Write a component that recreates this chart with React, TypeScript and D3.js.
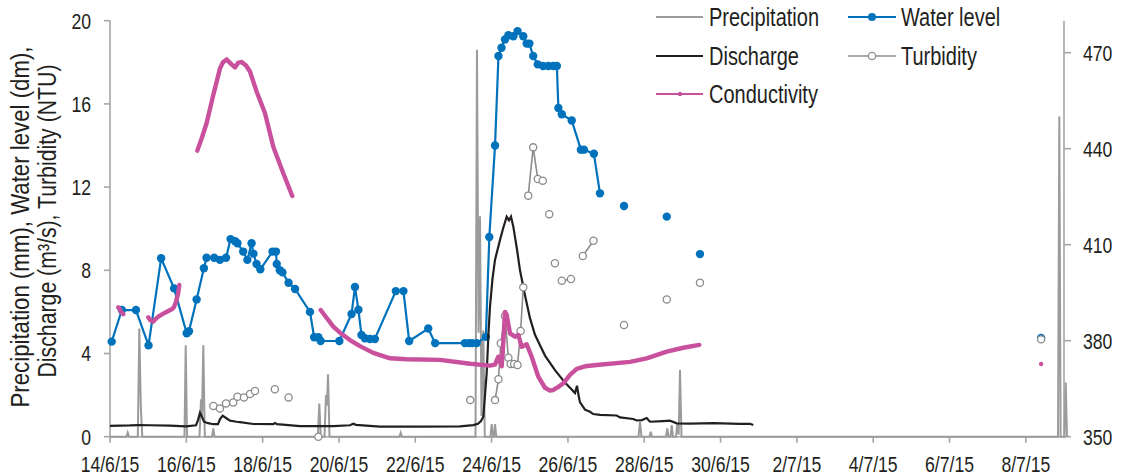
import React from "react";
import * as d3 from "d3";

// ---- Data (day offsets since 14/6/15 00:00) ----
const xTickLabels = ["14/6/15","16/6/15","18/6/15","20/6/15","22/6/15","24/6/15","26/6/15","28/6/15","30/6/15","2/7/15","4/7/15","6/7/15","8/7/15"];
const leftTicks = [0, 4, 8, 12, 16, 20];
const rightTicks = [350, 380, 410, 440, 470];

type P = [number, number | null];

const precipitation: P[] = [
  [0, 0], [0.432, 0], [0.464, 0.2], [0.498, 0],
  [0.729, 0], [0.768, 5.2], [0.807, 1.45], [0.846, 0],
  [1.952, 0], [1.984, 4.4], [2.018, 0],
  [2.345, 0], [2.385, 1.8], [2.411, 1.0], [2.445, 4.4], [2.484, 0],
  [2.673, 0], [2.707, 0.4], [2.741, 0],
  [5.446, 0], [5.485, 1.6], [5.524, 0], [5.621, 0], [5.66, 2.0], [5.687, 1.5], [5.713, 3.0], [5.752, 0],
  [7.584, 0], [7.618, 0.19], [7.652, 0],
  [9.578, 0], [9.617, 18.6], [9.657, 5.0], [9.696, 10.6], [9.735, 1.0], [9.782, 5.1], [9.822, 0],
  [9.969, 0], [10.003, 0.6], [10.037, 0], [10.063, 0], [10.089, 0.6], [10.123, 0],
  [13.85, 0], [13.889, 0.72], [13.928, 0], [14.138, 0], [14.169, 0.24], [14.203, 0],
  [14.57, 0], [14.604, 0.4], [14.636, 0], [14.688, 0], [14.72, 0.56], [14.753, 0],
  [14.832, 0], [14.866, 0.6], [14.903, 0.1], [14.937, 3.2], [14.976, 0],
  [24.843, 0], [24.877, 15.4], [24.911, 0], [25.013, 0], [25.045, 2.6], [25.079, 0],
];

const waterLevel: P[] = [
  [0.045, 4.57], [0.31, 6.09], [0.68, 6.09], [1.01, 4.39], [1.34, 8.58], [1.68, 7.13],
  [2.01, 4.97], [2.07, 5.07], [2.27, 6.6], [2.46, 8.1], [2.53, 8.6], [2.73, 8.6], [2.88, 8.5],
  [3.04, 8.6], [3.16, 9.5], [3.28, 9.4], [3.34, 9.3], [3.49, 8.9], [3.6, 8.5], [3.71, 9.3],
  [3.76, 8.8], [3.84, 8.3], [3.94, 8.05], [4.26, 8.9], [4.35, 8.9], [4.37, 8.3], [4.45, 8.0],
  [4.52, 7.9], [4.68, 7.4], [4.85, 7.1], [5.24, 6.0], [5.35, 4.78], [5.46, 4.78], [5.52, 4.6],
  [6.01, 4.6], [6.33, 5.9], [6.42, 7.2], [6.51, 6.1], [6.59, 4.89], [6.68, 4.73], [6.81, 4.7],
  [6.94, 4.7], [7.49, 7.0], [7.69, 7.0], [7.84, 4.6], [8.34, 5.2], [8.52, 4.5], [9.3, 4.5],
  [9.41, 4.5], [9.49, 4.5], [9.61, 4.5], [9.85, 4.8], [9.94, 9.6], [10.09, 14.0], [10.18, 18.3],
  [10.26, 18.7], [10.35, 19.1], [10.44, 19.3], [10.57, 19.25], [10.68, 19.5], [10.83, 19.25],
  [10.92, 18.9], [10.99, 18.9], [11.09, 18.3], [11.21, 17.9], [11.35, 17.82], [11.49, 17.82],
  [11.62, 17.82], [11.71, 17.82], [11.75, 15.8], [11.84, 15.5], [12.1, 15.2], [12.34, 13.8],
  [12.42, 13.8], [12.68, 13.6], [12.84, 11.7],
  [13.1, null], [13.47, 11.09], [14.0, null], [14.59, 10.58], [15.0, null], [15.46, 8.78],
  [20.0, null], [24.4, 4.75],
];

const discharge: P[] = [
  [0, 0.52], [0.524, 0.54], [0.76, 0.56], [1.048, 0.55], [1.572, 0.53], [1.99, 0.5], [2.254, 0.55],
  [2.306, 0.8], [2.358, 1.15], [2.411, 0.95], [2.463, 0.72], [2.568, 0.65], [2.707, 0.6], [2.83, 0.6],
  [2.883, 0.85], [2.953, 1.01], [3.04, 0.9], [3.145, 0.77], [3.32, 0.72], [3.407, 0.7], [3.755, 0.61],
  [4.279, 0.6], [4.324, 0.66], [4.376, 0.6], [4.979, 0.51], [5.852, 0.51], [6.289, 0.55], [6.376, 0.62],
  [6.447, 0.57], [7.075, 0.48], [8.124, 0.48], [9.172, 0.5], [9.52, 0.56], [9.644, 0.62], [9.722, 0.75],
  [9.782, 0.96], [9.827, 2.0], [9.871, 3.05], [9.919, 5.0], [9.958, 6.25], [10.024, 7.6], [10.089, 8.5],
  [10.22, 9.46], [10.299, 10.0], [10.396, 10.58], [10.456, 10.4], [10.508, 10.58], [10.569, 10.1],
  [10.666, 9.0], [10.744, 8.0], [10.875, 6.8], [11.006, 5.7], [11.137, 4.9], [11.268, 4.4], [11.4, 3.9],
  [11.53, 3.55], [11.661, 3.2], [11.792, 2.9], [11.923, 2.6], [12.055, 2.35], [12.186, 2.1], [12.238, 2.45],
  [12.277, 2.0], [12.317, 1.65], [12.448, 1.3], [12.579, 1.2], [12.665, 1.09], [12.841, 1.05],
  [13.278, 1.02], [13.365, 0.93], [13.713, 0.85], [13.802, 0.78], [13.941, 0.8], [14.064, 0.9],
  [14.151, 0.72], [14.491, 0.75], [14.675, 0.77], [14.851, 0.64], [15.199, 0.63], [15.81, 0.65],
  [16.509, 0.62], [16.771, 0.62], [16.858, 0.56],
];

const turbidity: P[] = [
  [2.71, 1.48], [2.75, null], [2.88, 1.36], [2.95, null], [3.04, 1.6], [3.1, null], [3.23, 1.65], [3.28, null],
  [3.34, 1.92], [3.4, null], [3.51, 1.89], [3.58, null], [3.67, 2.05], [3.72, null], [3.8, 2.2], [4.0, null],
  [4.32, 2.28], [4.5, null], [4.68, 1.89], [5.0, null], [5.46, 0.0], [7.0, null], [9.44, 1.76], [9.8, null],
  [10.09, 1.76], [10.18, 2.76], [10.24, 4.49], [10.35, 5.8], [10.44, 3.8], [10.5, 3.5], [10.59, 3.5],
  [10.68, 3.45], [10.76, 5.08], [10.83, 7.18], [10.9, null],
  [10.96, 11.59], [11.09, 13.91], [11.21, 12.39], [11.34, 12.31], [11.42, null],
  [11.51, 10.7], [11.58, null], [11.66, 8.34], [11.75, null], [11.84, 7.5], [12.08, 7.58], [12.2, null],
  [12.39, 8.69], [12.67, 9.42], [13.0, null], [13.47, 5.37], [14.0, null], [14.59, 6.6], [15.0, null],
  [15.46, 7.4], [20.0, null], [24.4, 4.68],
];

const conductivity: P[] = [
  [0.218, 390.4], [0.25, 390.0], [0.288, 389.0], [0.349, 388.3], [0.5, null],
  [1.004, 387.3], [1.048, 386.5], [1.119, 385.9], [1.179, 386.6], [1.266, 387.5], [1.441, 388.75],
  [1.617, 389.8], [1.677, 390.5], [1.73, 392.2], [1.782, 394.5], [1.816, 397.4], [2.0, null],
  [2.288, 439.4], [2.411, 443.5], [2.534, 448.1], [2.707, 456.8], [2.883, 465.1], [2.961, 467.0],
  [3.058, 467.9], [3.171, 466.5], [3.276, 465.4], [3.354, 466.8], [3.451, 467.1], [3.564, 466.0],
  [3.669, 464.1], [3.844, 457.8], [4.062, 451.1], [4.279, 440.6], [4.541, 432.3], [4.777, 425.2], [5.0, null],
  [5.521, 389.6], [5.852, 384.4], [6.027, 382.5], [6.289, 380.2], [6.551, 378.3], [6.9, 376.2],
  [7.338, 374.5], [7.775, 374.2], [8.648, 374.0], [9.434, 372.8], [9.958, 372.2], [10.089, 372.5],
  [10.176, 375.0], [10.265, 372.0], [10.299, 378.0], [10.351, 389.0], [10.396, 388.0], [10.482, 382.3],
  [10.613, 381.25], [10.7, 381.8], [10.789, 378.1], [10.92, 378.9], [11.051, 375.0], [11.224, 368.75],
  [11.399, 365.3], [11.53, 364.4], [11.617, 364.6], [11.74, 365.5], [11.879, 366.7], [12.055, 369.3],
  [12.23, 371.2], [12.448, 372.0], [12.754, 372.4], [13.627, 373.4], [14.064, 374.5], [14.589, 376.6],
  [15.024, 377.8], [15.443, 378.7], [20.0, null], [24.4, 372.7],
];

// ---- Styles ----
const FONT = "'Liberation Sans', Arial, sans-serif";
const NARROW = 0.8;
const AXIS = "#A6A6A6";
const C_PREC = "#9B9B9B";
const C_WL = "#0072BC";
const C_DIS = "#231F20";
const C_TURB = "#8C8C8C";
const C_COND = "#C9509C";
const TXT = "#231F20";

function NText(props: { x: number; y: number; anchor?: string; size: number; rotate?: number; children: React.ReactNode; length?: number }) {
  const { x, y, anchor = "start", size, rotate = 0, children, length } = props;
  const tr = `translate(${x},${y})${rotate ? ` rotate(${rotate})` : ""}${length ? "" : ` scale(${NARROW},1)`}`;
  return (
    <text transform={tr} textAnchor={anchor} fontSize={size} fill={TXT}
      textLength={length} lengthAdjust={length ? "spacingAndGlyphs" : undefined}>
      {children}
    </text>
  );
}

export default function App() {
  const W = 1121, H = 476;
  const x = d3.scaleLinear().domain([0, 25]).range([110, 1064]);
  const yL = d3.scaleLinear().domain([0, 20]).range([436.7, 20.7]);
  const yR = d3.scaleLinear().domain([350, 480]).range([436.7, 20.7]);

  const lineL = d3.line<P>().defined(d => d[1] !== null).x(d => x(d[0])).y(d => yL(d[1] as number));
  const lineR = d3.line<P>().defined(d => d[1] !== null).x(d => x(d[0])).y(d => yR(d[1] as number));

  const valid = (arr: P[]) => arr.filter(d => d[1] !== null) as [number, number][];

  const bottom = yL(0);

  return (
    <svg width={W} height={H} style={{ position: "absolute", left: 0, top: 0, background: "#fff" }} fontFamily={FONT}>
      {/* axes */}
      <g stroke={AXIS} strokeWidth={1.6} fill="none">
        <line x1={x(0)} x2={x(0)} y1={yL(20)} y2={bottom} />
        <line x1={x(25)} x2={x(25)} y1={yR(480)} y2={bottom} />
        <line x1={x(0)} x2={x(25)} y1={bottom} y2={bottom} />
        {leftTicks.map(t => <line key={"lt" + t} x1={x(0) - 6} x2={x(0)} y1={yL(t)} y2={yL(t)} />)}
        {rightTicks.map(t => <line key={"rt" + t} x1={x(25)} x2={x(25) + 7} y1={yR(t)} y2={yR(t)} />)}
        {xTickLabels.map((l, i) => <line key={"xt" + l} x1={x(i * 2)} x2={x(i * 2)} y1={bottom} y2={bottom + 6} />)}
      </g>
      {leftTicks.map(t => <NText key={"ll" + t} x={91} y={yL(t) + 7.8} anchor="end" size={22}>{t}</NText>)}
      {rightTicks.map(t => <NText key={"rl" + t} x={1083} y={yR(t) + 7.8} size={22}>{t}</NText>)}
      {xTickLabels.map((l, i) => <NText key={"xl" + l} x={x(i * 2)} y={471.5} anchor="middle" size={22}>{l}</NText>)}

      {/* y title */}
      <NText x={29} y={227} rotate={-90} anchor="middle" size={25} length={361}>Precipitation (mm),  Water level (dm),</NText>
      <NText x={56} y={221} rotate={-90} anchor="middle" size={25} length={313}>Discharge (m³/s), Turbidity (NTU)</NText>

      {/* series */}
      <path d={lineL(precipitation) || ""} fill="none" stroke={C_PREC} strokeWidth={2} />
      <path d={lineL(waterLevel) || ""} fill="none" stroke={C_WL} strokeWidth={2.2} />
      {valid(waterLevel).map((d, i) => <circle key={"wl" + i} cx={x(d[0])} cy={yL(d[1])} r={4.2} fill={C_WL} />)}
      <path d={lineL(discharge) || ""} fill="none" stroke={C_DIS} strokeWidth={2.2} />
      <path d={lineL(turbidity) || ""} fill="none" stroke={C_TURB} strokeWidth={1.6} />
      {valid(turbidity).map((d, i) => <circle key={"tb" + i} cx={x(d[0])} cy={yL(d[1])} r={3.6} fill="#fff" stroke={C_TURB} strokeWidth={1.3} />)}
      <path d={lineR(conductivity) || ""} fill="none" stroke={C_COND} strokeWidth={4.4} strokeLinejoin="round" strokeLinecap="round" />

      {/* legend */}
      <line x1={656} x2={703} y1={17} y2={17} stroke={C_PREC} strokeWidth={2} />
      <NText x={709} y={26} size={25}>Precipitation</NText>
      <line x1={848} x2={896} y1={17} y2={17} stroke={C_WL} strokeWidth={2.2} />
      <circle cx={872} cy={17} r={4} fill={C_WL} />
      <NText x={901} y={26} size={25}>Water level</NText>

      <line x1={656} x2={703} y1={56} y2={56} stroke={C_DIS} strokeWidth={2} />
      <NText x={709} y={65} size={25}>Discharge</NText>
      <line x1={848} x2={896} y1={56} y2={56} stroke={C_TURB} strokeWidth={1.6} />
      <circle cx={872} cy={56} r={3.6} fill="#fff" stroke={C_TURB} strokeWidth={1.3} />
      <NText x={901} y={65} size={25}>Turbidity</NText>

      <line x1={656} x2={703} y1={94} y2={94} stroke={C_COND} strokeWidth={2.2} />
      <circle cx={680} cy={94} r={2.2} fill={C_COND} />
      <NText x={709} y={103} size={25}>Conductivity</NText>
    </svg>
  );
}
